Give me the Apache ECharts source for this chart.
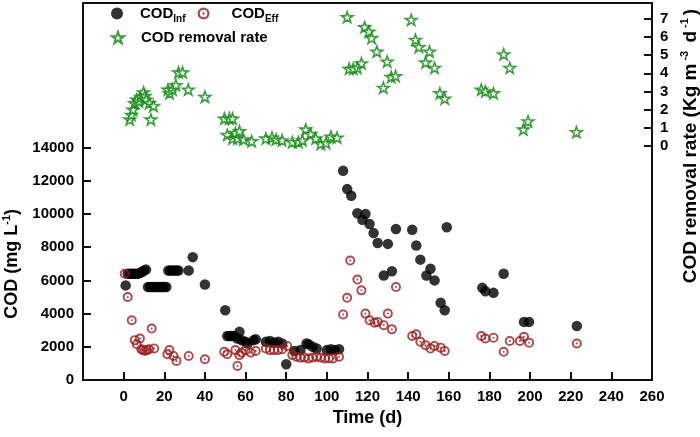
<!DOCTYPE html>
<html>
<head>
<meta charset="utf-8">
<script src="https://cdn.jsdelivr.net/npm/echarts@6/dist/echarts.min.js"></script>
<style>html,body{margin:0;padding:0;background:#fff;}#c{width:700px;height:437px;}</style>
</head>
<body>
<div id="c"></div>
<script>
// ---- data ----
const xTicksMin = -20, xTicksMax = 260, xInterval = 20;
const codTicks = [0, 2000, 4000, 6000, 8000, 10000, 12000, 14000];
const rateTicks = [0, 1, 2, 3, 4, 5, 6, 7];

const infDay = [1, 2, 3, 4, 5, 6, 7, 8, 9, 10, 11, 12, 13, 14, 15, 16, 17, 18, 19, 20, 21, 22, 23, 24, 25, 26, 27, 32, 34, 40, 50, 51, 52, 53, 54, 56, 57, 58, 60, 61, 64, 65, 70, 72, 74, 76, 78, 80, 84, 87, 90, 91, 93, 95, 100, 102, 104, 106, 108, 110, 112, 115, 117.5, 119, 121, 123, 125, 128, 130, 132, 134, 142, 144, 146, 149, 151, 153, 156, 158, 159, 176.5, 178, 182, 187, 197, 199.5, 223];
const infVal = [5700, 6400, 6400, 6400, 6400, 6400, 6400, 6450, 6500, 6600, 6650, 5600, 5600, 5600, 5600, 5600, 5600, 5600, 5600, 5600, 5600, 6600, 6600, 6600, 6600, 6600, 6600, 6600, 7400, 5750, 4200, 2650, 2650, 2650, 2650, 2500, 2900, 2400, 2300, 2200, 2400, 2450, 2300, 2350, 2250, 2300, 2200, 950, 1750, 1800, 2200, 2150, 2000, 1900, 1800, 1850, 1800, 1850, 12600, 11500, 11100, 10050, 9650, 10000, 9400, 8850, 8250, 6300, 8200, 6550, 9100, 9050, 8100, 7250, 6300, 6700, 6000, 4650, 4200, 9200, 5550, 5350, 5250, 6400, 3500, 3500, 3250];

const effDay = [0.5, 2, 4, 5.5, 6.5, 8, 8.7, 9.5, 10.5, 11.5, 12.5, 13.8, 15, 21.5, 22.5, 24.5, 26, 32, 40, 49.5, 51, 55, 56, 57, 58, 60, 62.5, 65, 70, 72, 74, 76, 78, 80.5, 83, 85, 87, 89, 91, 93, 95, 97, 99, 101, 103, 106, 108, 110, 111.5, 115, 117, 119, 121, 123.5, 125, 128, 130, 132, 134, 142, 144, 146, 148.5, 151, 153, 156, 158, 176, 178, 182, 187, 190, 195, 197, 199.5, 223];
const effVal = [6400, 5000, 3600, 2400, 2150, 2500, 1850, 1800, 1750, 1800, 1850, 3100, 1900, 1550, 1800, 1450, 1150, 1450, 1250, 1700, 1550, 1800, 850, 1500, 1650, 1800, 1650, 1750, 1900, 1800, 1800, 1800, 1850, 2050, 1500, 1400, 1350, 1350, 1300, 1350, 1400, 1350, 1300, 1300, 1300, 1400, 3950, 4950, 7200, 6050, 5400, 4000, 3600, 3450, 3500, 3300, 4000, 3050, 5600, 2650, 2750, 2300, 2100, 1900, 2050, 1950, 1750, 2650, 2500, 2550, 1700, 2350, 2350, 2600, 2250, 2200];

const rateDay = [3, 3.8, 4.6, 5.4, 6.5, 7.5, 8.5, 9.8, 10.5, 11, 12.6, 13.4, 14.7, 21.8, 22.6, 24, 25.7, 27, 29, 31.8, 40, 49.6, 51, 52, 53.6, 53.6, 55, 56, 57, 59, 63, 70, 73, 75, 78, 83, 86, 88, 89.6, 92, 94.5, 97, 99.6, 102, 105, 110, 111, 113, 115, 117, 118.6, 120.7, 122, 124.6, 127.8, 129.7, 131.7, 133.8, 141.5, 143.6, 145.3, 148.6, 150.5, 153, 155.6, 158, 176, 178, 182, 187, 190, 196.7, 199, 222.8];
const rateVal = [1.45, 1.7, 2.0, 2.35, 2.55, 2.45, 2.7, 2.95, 2.75, 2.55, 2.35, 1.45, 2.2, 3.1, 2.9, 3.1, 3.35, 4.05, 4.05, 3.1, 2.7, 1.5, 0.6, 1.5, 1.5, 0.4, 0.7, 0.4, 0.8, 0.35, 0.25, 0.4, 0.45, 0.35, 0.3, 0.2, 0.2, 0.3, 0.9, 0.65, 0.4, 0.1, 0.15, 0.5, 0.45, 7.1, 4.25, 4.25, 4.3, 4.55, 6.55, 6.3, 5.95, 5.2, 3.2, 4.65, 3.8, 3.85, 6.95, 5.85, 5.45, 4.6, 5.2, 4.3, 2.9, 2.6, 3.1, 3.0, 2.9, 5.05, 4.3, 0.9, 1.35, 0.75];

const zip = (a, b) => a.map((d, i) => [d, b[i]]);

// ---- styles ----
const FONT = 'Liberation Sans, Arial, sans-serif';
const GL = 83, GR = 48, GT = 3, GB = 57;
const codTop = 147.6;      // y pixel of 14000
const rateBottom = 437 - 145.7; // y pixel of 0 on right axis
const rateMax = 7.88;

const STAR = 'path://M50,0 L61.8,34.5 L97.6,34.5 L68.6,55.9 L79.4,90.5 L50,69.6 L20.6,90.5 L31.4,55.9 L2.4,34.5 L38.2,34.5 Z';
const RING = 'path://M10,0 A10,10 0 1,1 10,20 A10,10 0 1,1 10,0 Z M10,3.8 A6.2,6.2 0 1,0 10,16.2 A6.2,6.2 0 1,0 10,3.8 Z M10,8 A2,2 0 1,1 10,12 A2,2 0 1,1 10,8 Z';

const labelStyle = { fontFamily: FONT, fontWeight: 'bold', fontSize: 15, color: '#000' };
function tickStyle() { return { show: true, inside: true, length: 8, lineStyle: { color: '#111', width: 2 } }; }
const legendRich = {
  b: { fontFamily: FONT, fontWeight: 'bold', fontSize: 15, color: '#000', lineHeight: 22 },
  s: { fontFamily: FONT, fontWeight: 'bold', fontSize: 10, color: '#000', lineHeight: 10, verticalAlign: 'bottom' },
  g1: { width: 12 },
  g2: { width: 17 }
};

const chart = echarts.init(document.getElementById('c'), null, { renderer: 'canvas' });
chart.setOption({
  animation: false,
  backgroundColor: '#fff',
  grid: [
    { left: GL, right: GR, top: GT, bottom: GB, outerBoundsMode: 'none', containLabel: false, show: true, borderColor: '#111', borderWidth: 2 },
    { left: GL, right: GR, top: codTop, bottom: GB, outerBoundsMode: 'none', containLabel: false },
    { left: GL, right: GR, top: GT, bottom: rateBottom, outerBoundsMode: 'none', containLabel: false }
  ],
  xAxis: [
    {
      gridIndex: 0, type: 'value', min: xTicksMin, max: xTicksMax, interval: xInterval,
      axisLine: { show: true, onZero: false, lineStyle: { color: '#111', width: 2 } },
      axisTick: tickStyle(),
      axisLabel: Object.assign({ margin: 9, formatter: v => (v < 0 ? '' : String(v)) }, labelStyle),
      splitLine: { show: false },
      name: 'Time (d)', nameLocation: 'middle', nameGap: 29,
      nameTextStyle: { fontFamily: FONT, fontWeight: 'bold', fontSize: 18, color: '#000' }
    },
    { gridIndex: 1, type: 'value', min: xTicksMin, max: xTicksMax, show: false },
    { gridIndex: 2, type: 'value', min: xTicksMin, max: xTicksMax, show: false }
  ],
  yAxis: [
    { gridIndex: 0, type: 'value', min: 0, max: 1, show: false },
    {
      gridIndex: 1, type: 'value', position: 'left', min: codTicks[0], max: codTicks[codTicks.length - 1], interval: 2000,
      axisLine: { show: false, onZero: false },
      axisTick: tickStyle(),
      axisLabel: Object.assign({ margin: 9, formatter: v => String(v) }, labelStyle),
      splitLine: { show: false },
      name: '{t|COD (mg L}{u|-1}{t|)}', nameLocation: 'middle', nameGap: 57,
      nameTextStyle: {
        fontFamily: FONT, fontWeight: 'bold', fontSize: 18, color: '#000',
        rich: {
          t: { fontFamily: FONT, fontWeight: 'bold', fontSize: 18, color: '#000', lineHeight: 22 },
          u: { fontFamily: FONT, fontWeight: 'bold', fontSize: 11, color: '#000', lineHeight: 11, verticalAlign: 'top' }
        }
      }
    },
    {
      gridIndex: 2, type: 'value', position: 'right', min: rateTicks[0], max: rateMax, interval: 1,
      axisLine: { show: false, onZero: false },
      axisTick: tickStyle(),
      axisLabel: Object.assign({ margin: 8, formatter: v => (rateTicks.indexOf(v) >= 0 ? String(v) : '') }, labelStyle),
      splitLine: { show: false }
    }
  ],
  legend: [
    {
      left: 111, top: 6, padding: 0, itemWidth: 12, itemHeight: 12, itemGap: 12,
      data: ['CODInf', 'CODEff'],
      formatter: n => n === 'CODInf' ? '{g1|}{b|COD}{s|Inf}' : '{g2|}{b|COD}{s|Eff}',
      textStyle: { rich: legendRich, fontFamily: FONT, fontWeight: 'bold', fontSize: 15 }
    },
    {
      left: 111, top: 30, padding: 0, itemWidth: 12, itemHeight: 12,
      data: ['COD removal rate'],
      formatter: n => '{g1|}{b|' + n + '}',
      textStyle: { rich: legendRich, fontFamily: FONT, fontWeight: 'bold', fontSize: 15 }
    }
  ],
  graphic: [
    {
      type: 'text', x: 691, y: 146, rotation: Math.PI / 2,
      style: {
        text: '{t|COD removal rate (Kg m}{u|-3}{t| d}{u|-1}{t|)}',
        align: 'center', verticalAlign: 'middle',
        fontFamily: FONT, fontWeight: 'bold', fontSize: 19, fill: '#000',
        rich: {
          t: { fontFamily: FONT, fontWeight: 'bold', fontSize: 19, fill: '#000', lineHeight: 23 },
          u: { fontFamily: FONT, fontWeight: 'bold', fontSize: 11, fill: '#000', lineHeight: 11, verticalAlign: 'top', padding: [0, 3, 0, 3] }
        }
      }
    }
  ],
  series: [
    {
      name: 'CODInf', type: 'scatter', xAxisIndex: 1, yAxisIndex: 1,
      symbol: 'circle', symbolSize: 10.5,
      itemStyle: { color: '#000' },
      data: zip(infDay, infVal)
    },
    {
      name: 'CODEff', type: 'scatter', xAxisIndex: 1, yAxisIndex: 1,
      symbol: RING, symbolSize: 10, symbolKeepAspect: true,
      itemStyle: { color: '#9B1C1C' },
      data: zip(effDay, effVal)
    },
    {
      name: 'COD removal rate', type: 'scatter', xAxisIndex: 2, yAxisIndex: 2,
      symbol: STAR, symbolSize: 11.5, symbolKeepAspect: true,
      itemStyle: { color: '#fff', borderColor: '#0A870A', borderWidth: 1.6 },
      data: zip(rateDay, rateVal)
    }
  ]
});
</script>
</body>
</html>
